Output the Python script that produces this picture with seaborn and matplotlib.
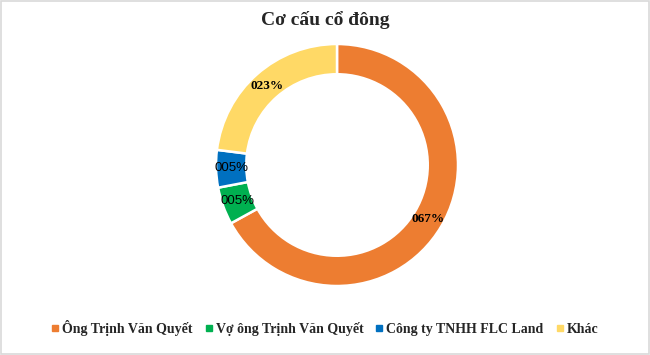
import matplotlib
matplotlib.use("Agg")
import matplotlib.pyplot as plt
import seaborn as sns
import numpy as np
from matplotlib.patches import Rectangle
from matplotlib.lines import Line2D

categories = ["Ông Trịnh Văn Quyết", "Vợ ông Trịnh Văn Quyết", "Công ty TNHH FLC Land", "Khác"]
values = [67, 5, 5, 23]
labels = ["067%", "005%", "005%", "023%"]
colors = ["#ED7D31", "#00B050", "#0070C0", "#FFD966"]

sns.set_theme(style="white")
plt.rcParams['font.family'] = ['Liberation Serif', 'DejaVu Serif']

fig = plt.figure(figsize=(6.5, 3.55), dpi=100)
fig.patch.set_facecolor("white")
fig.add_artist(Rectangle((0.001, 0.002), 0.997, 0.995, transform=fig.transFigure,
                         fill=False, edgecolor="#D9D9D9", linewidth=1.2))

W, H = 650, 355
cx, cy, r = 337, 165, 121
ax = fig.add_axes([(cx - r) / W, (H - cy - r) / H, 2 * r / W, 2 * r / H])

wedges, _ = ax.pie(values, colors=colors, startangle=90, counterclock=False,
                   radius=1.0, wedgeprops=dict(width=0.25, edgecolor="white", linewidth=1.8))
ax.set_xlim(-1, 1)
ax.set_ylim(-1, 1)
ax.set_aspect("equal")
ax.axis("off")

total = sum(values)
start = 90.0
label_r = 0.875
fonts = [dict(family="Liberation Serif", weight="bold"),
         dict(family="Liberation Sans", weight="normal"),
         dict(family="Liberation Sans", weight="normal"),
         dict(family="Liberation Serif", weight="bold")]
for v, lab, f in zip(values, labels, fonts):
    ang = start - 360.0 * v / total / 2
    start -= 360.0 * v / total
    x = label_r * np.cos(np.radians(ang))
    y = label_r * np.sin(np.radians(ang))
    ax.text(x, y, lab, ha="center", va="center", fontsize=9.5, color="black", **f)

fig.text(0.5, 1 - 20 / H, "Cơ cấu cổ đông", ha="center", va="center",
         fontsize=14, fontweight="bold", family="Liberation Serif")

handles = [Line2D([0], [0], marker="s", linestyle="none", markersize=4.5,
                  markerfacecolor=c, markeredgecolor=c) for c in colors]
fig.legend(handles, categories, loc="center", bbox_to_anchor=(0.5, 1 - 328 / H),
           ncol=4, frameon=False, handlelength=0.5, handletextpad=0.25, columnspacing=0.9,
           prop=dict(family="Liberation Serif", weight="bold", size=10))

fig.savefig("out.png", dpi=100)
